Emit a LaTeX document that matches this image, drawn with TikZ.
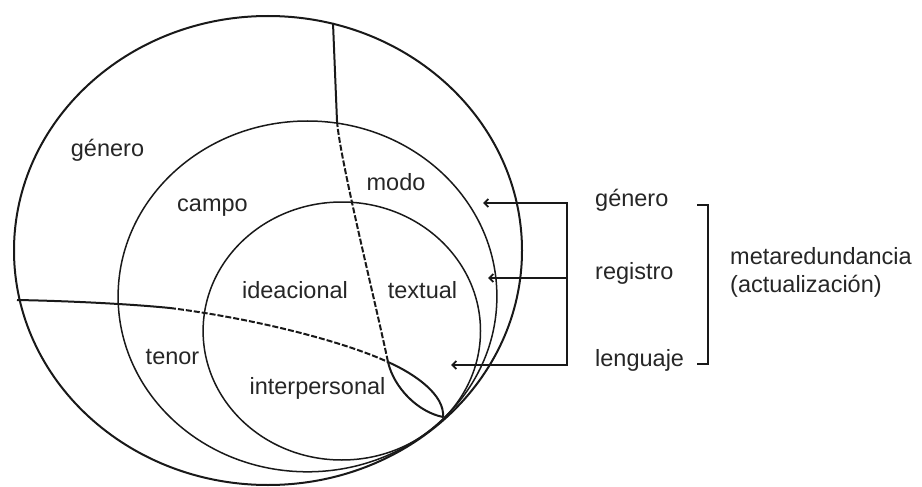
\documentclass[tikz,border=0pt]{standalone}
\usepackage{fontspec}
\setmainfont{Liberation Sans}
\usetikzlibrary{arrows.meta}
\tikzset{barbtip/.tip={Straight Barb[length=4pt,width=8pt]}}
\begin{document}
\begin{tikzpicture}[x=1pt,y=-1pt,
  ring/.style={line width=1.5pt, draw=black!90},
  outerring/.style={line width=2pt, draw=black!90},
  divider/.style={line width=2pt, draw=black!90},
  divdash/.style={divider, dash pattern=on 6pt off 2pt},
  lbl/.style={font=\fontsize{23.5}{28}\selectfont, text=black!85, inner sep=0pt},
  conn/.style={line width=1.8pt, draw=black!90},
]
\useasboundingbox (0,0) rectangle (922,487);
% circles
\draw[outerring] (268,250.5) ellipse [x radius=254, y radius=234.5];
\draw[ring] (307.5,296.4) ellipse [x radius=189.4, y radius=175.4];
\draw[ring] (341.8,331) ellipse [x radius=138.7, y radius=129];
% key points
\coordinate (vtop) at (333,23);
\coordinate (vmid) at (337,121);
\coordinate (hleft) at (17,300);
\coordinate (hmid) at (170,308);
\coordinate (cross) at (388,362);
\coordinate (tang) at (443,417);
% vertical divider
\draw[divider] (vtop) -- (vmid);
\draw[divdash] (vmid) .. controls (340,160) and (375,300) .. (cross);
\draw[divider] (cross) .. controls (394,388) and (418,412) .. (tang);
% horizontal divider
\draw[divider] (hleft) .. controls (70,301) and (130,304) .. (hmid);
\draw[divdash] (hmid) .. controls (250,318) and (340,340) .. (cross);
\draw[divider] (cross) .. controls (415,374) and (445,395) .. (tang);
% labels inside
\node[lbl] (lgen) at (107.5,150) {género};
\node[lbl] (lcampo) at (212.5,208) {campo};
\node[lbl] (lmodo) at (396,182) {modo};
\node[lbl] (lidea) at (295,290) {ideacional};
\node[lbl] (ltext) at (422.5,290) {textual};
\node[lbl] (lten) at (172.5,357) {tenor};
\node[lbl] (linter) at (317.5,388) {interpersonal};
% right labels
\node[lbl, anchor=mid west] (rgen) at (595,204) {género};
\node[lbl, anchor=mid west] (rreg) at (595,277) {registro};
\node[lbl, anchor=mid west] (rlen) at (595,364) {lenguaje};
\node[lbl, anchor=mid west] (meta) at (730,262) {metaredundancia};
\node[lbl, anchor=mid west] (actu) at (730,290) {(actualización)};
% arrows
\coordinate (a1) at (483,203);
\coordinate (b1) at (567,203);
\coordinate (a2) at (488,278);
\coordinate (b2) at (567,278);
\coordinate (a3) at (451,365);
\coordinate (b3) at (567,365);
\draw[conn, {barbtip}-{barbtip}] (a1) -- (b1) -- (b3) -- (a3);
\draw[conn, -{barbtip}] (b2) -- (a2);
% bracket
\coordinate (k1) at (697,205);
\coordinate (k2) at (708,205);
\coordinate (k3) at (708,364);
\coordinate (k4) at (697,364);
\draw[conn] (k1) -- (k2) -- (k3) -- (k4);
\end{tikzpicture}
\end{document}
